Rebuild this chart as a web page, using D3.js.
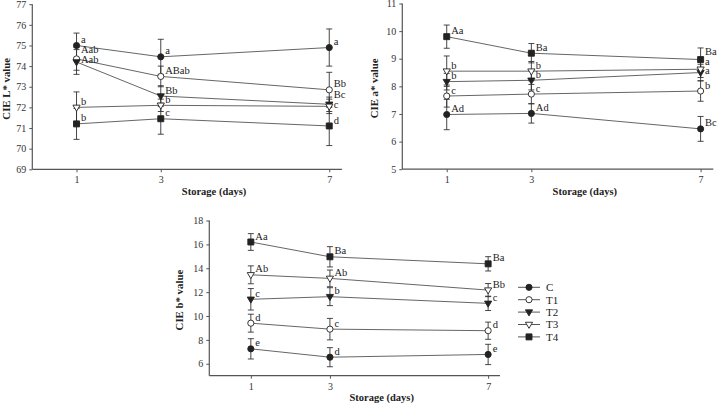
<!DOCTYPE html>
<html><head><meta charset="utf-8">
<script src="https://cdn.jsdelivr.net/npm/d3@7"></script>
<style>body{margin:0;background:#fff} svg{display:block}</style>
</head><body><svg id="c" width="717" height="404"></svg>
<script>
const days = [1, 3, 7];
const seriesNames = ["C", "T1", "T2", "T3", "T4"];

const lMeans = [[75.0, 74.45, 74.9], [74.35, 73.5, 72.85], [74.2, 72.55, 72.15], [72.0, 72.1, 72.05], [71.2, 71.45, 71.1]];
const lSD = [[0.6, 0.85, 0.9], [0.55, 0.5, 0.85], [0.6, 0.5, 0.35], [0.75, 0.3, 0.35], [0.75, 0.75, 0.95]];
const lLabels = [["a", "a", "a"], ["Aab", "ABab", "Bb"], ["Aab", "Bb", "Bc"], ["b", "b", "c"], ["b", "c", "d"]];
const lTicks = [69, 70, 71, 72, 73, 74, 75, 76, 77];

const aMeans = [[6.98, 7.02, 6.46], [7.65, 7.72, 7.83], [8.17, 8.22, 8.5], [8.55, 8.55, 8.62], [9.8, 9.2, 8.97]];
const aSD = [[0.55, 0.35, 0.45], [0.4, 0.35, 0.37], [0.3, 0.35, 0.3], [0.55, 0.35, 0.3], [0.42, 0.35, 0.42]];
const aLabels = [["Ad", "Ad", "Bc"], ["c", "c", "b"], ["b", "b", "a"], ["b", "b", "a"], ["Aa", "Ba", "Ba"]];
const aTicks = [5, 6, 7, 8, 9, 10, 11];

const bMeans = [[7.25, 6.55, 6.78], [9.4, 8.9, 8.77], [11.4, 11.62, 11.06], [13.45, 13.15, 12.17], [16.2, 14.96, 14.37]];
const bSD = [[0.85, 0.8, 0.85], [0.75, 0.9, 0.72], [0.9, 0.75, 0.6], [0.75, 0.7, 0.55], [0.7, 0.85, 0.6]];
const bLabels = [["e", "d", "e"], ["d", "c", "d"], ["c", "b", "c"], ["Ab", "Ab", "Bb"], ["Aa", "Ba", "Ba"]];
const bTicks = [6, 8, 10, 12, 14, 16, 18];

const xDomain = [-0.05, 7.3];

const panels = [
  {means: lMeans, sd: lSD, labels: lLabels, ticks: lTicks, yDomain: [69, 77], xr: [32.3, 341.9], yr: [169.3, 4.2], title: "CIE L* value", tx: 10},
  {means: aMeans, sd: aSD, labels: aLabels, ticks: aTicks, yDomain: [5, 11], xr: [402.3, 713.3], yr: [169.2, 3.5], title: "CIE a* value", tx: 378},
  {means: bMeans, sd: bSD, labels: bLabels, ticks: bTicks, yDomain: [5, 18], xr: [209.3, 500], yr: [375.7, 220.5], title: "CIE b* value", tx: 183}
];

const svg = d3.select("#c");
const serif = "'Liberation Serif','Times New Roman',serif";
const axisColor = "#555";
const ink = "#222";

const triDown = {
  draw(ctx, size) {
    const w = 3.6, h = 3.2;
    ctx.moveTo(-w, -h * 0.7); ctx.lineTo(w, -h * 0.7); ctx.lineTo(0, h * 1.2); ctx.closePath();
  }
};
const markerSpec = [
  {type: d3.symbolCircle, size: 30, fill: ink},
  {type: d3.symbolCircle, size: 30, fill: "#fff"},
  {type: triDown, size: 30, fill: ink},
  {type: triDown, size: 30, fill: "#fff"},
  {type: d3.symbolSquare, size: 36, fill: ink}
];

function drawMarker(g, i, x, y) {
  const m = markerSpec[i];
  g.append("path")
    .attr("d", d3.symbol().type(m.type).size(m.size)())
    .attr("transform", `translate(${x},${y})`)
    .attr("fill", m.fill).attr("stroke", ink).attr("stroke-width", 0.9);
}

panels.forEach(p => {
  const g = svg.append("g");
  const x = d3.scaleLinear().domain(xDomain).range(p.xr);
  const y = d3.scaleLinear().domain(p.yDomain).range(p.yr);

  const yAxis = g.append("g").attr("transform", `translate(${p.xr[0]},0)`)
    .call(d3.axisLeft(y).tickValues(p.ticks).tickSize(3).tickPadding(3).tickFormat(d3.format("d")));
  const xAxis = g.append("g").attr("transform", `translate(0,${p.yr[0]})`)
    .call(d3.axisBottom(x).tickValues(days).tickSize(3).tickPadding(4).tickFormat(d3.format("d")));
  [yAxis, xAxis].forEach(a => {
    a.select(".domain").attr("stroke", axisColor).attr("stroke-width", 1.2);
    a.selectAll(".tick line").attr("stroke", axisColor);
    a.selectAll(".tick text").attr("font-family", serif).attr("font-size", 10).attr("fill", "#333");
  });
  yAxis.select(".domain").attr("d", `M0,${p.yr[1]}V${p.yr[0]}`);
  xAxis.select(".domain").attr("d", `M${p.xr[0]},0H${p.xr[1]}`);

  g.append("text").text("Storage (days)")
    .attr("x", (p.xr[0] + p.xr[1]) / 2 + 27).attr("y", p.yr[0] + 25.5)
    .attr("text-anchor", "middle").attr("font-family", serif).attr("font-weight", "bold")
    .attr("font-size", 10.5).attr("fill", "#222");
  const cy = (p.yr[0] + p.yr[1]) / 2 + 2;
  g.append("text").text(p.title)
    .attr("transform", `translate(${p.tx},${cy}) rotate(-90)`)
    .attr("text-anchor", "middle").attr("font-family", serif).attr("font-weight", "bold")
    .attr("font-size", 10.8).attr("fill", "#222");

  const line = d3.line().x((d, j) => x(days[j])).y(d => y(d));
  p.means.forEach(s => {
    g.append("path").attr("d", line(s)).attr("fill", "none")
      .attr("stroke", "#555").attr("stroke-width", 0.9);
  });

  p.means.forEach((s, i) => {
    s.forEach((v, j) => {
      const cx = x(days[j]);
      const y1 = y(v + p.sd[i][j]), y2 = y(v - p.sd[i][j]);
      g.append("line").attr("x1", cx).attr("x2", cx).attr("y1", y1).attr("y2", y2)
        .attr("stroke", "#333").attr("stroke-width", 0.9);
      [y1, y2].forEach(yy => g.append("line").attr("x1", cx - 3).attr("x2", cx + 3)
        .attr("y1", yy).attr("y2", yy).attr("stroke", "#333").attr("stroke-width", 0.9));
    });
  });

  p.means.forEach((s, i) => s.forEach((v, j) => drawMarker(g, i, x(days[j]), y(v))));

  days.forEach((d, j) => {
    const items = p.means.map((s, i) => ({t: p.labels[i][j], ly: y(s[j]) - 6}));
    items.sort((a, b) => a.ly - b.ly);
    for (let it = 0; it < 40; it++) {
      for (let k = 0; k < items.length - 1; k++) {
        const gap = items[k + 1].ly - items[k].ly;
        if (gap < 9.5) {
          const sh = (9.5 - gap) / 2;
          items[k].ly -= sh; items[k + 1].ly += sh;
        }
      }
    }
    items.forEach(it => {
      g.append("text").text(it.t)
        .attr("x", x(d) + 4.5).attr("y", it.ly + 3.6)
        .attr("font-family", serif).attr("font-size", 10.5).attr("fill", "#222");
    });
  });
});

const lg = svg.append("g");
seriesNames.forEach((n, i) => {
  const yy = 287.3 + i * 12.4;
  lg.append("line").attr("x1", 518).attr("x2", 540).attr("y1", yy).attr("y2", yy)
    .attr("stroke", "#444").attr("stroke-width", 0.9);
  drawMarker(lg, i, 529, yy);
  lg.append("text").text(n).attr("x", 546).attr("y", yy + 3.8)
    .attr("font-family", serif).attr("font-size", 11).attr("fill", "#222");
});
</script>
</body></html>
